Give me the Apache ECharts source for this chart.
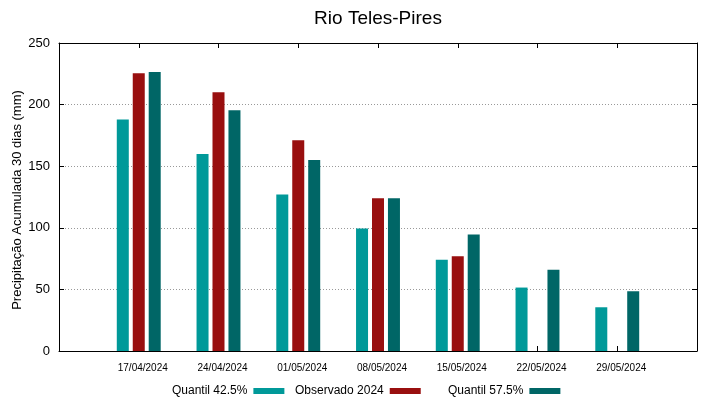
<!DOCTYPE html>
<html>
<head>
<meta charset="utf-8">
<script src="https://cdn.jsdelivr.net/npm/echarts@6/dist/echarts.min.js"></script>
<style>
  html, body { margin: 0; padding: 0; background: #fff; }
  #chart { width: 719px; height: 399px; }
</style>
</head>
<body>
<div id="chart"></div>
<script>
// Categories (empty slots at both ends to leave the margins of the plot)
const dates = ['', '17/04/2024', '24/04/2024', '01/05/2024', '08/05/2024', '15/05/2024', '22/05/2024', '29/05/2024', ''];

// Series values (mm)
const quantil425 = [null, 188, 160, 127, 99.5, 74, 51.5, 35.5, null];
const observado2024 = [null, 225.5, 210, 171, 124, 77, null, null, null];
const quantil575 = [null, 226.5, 195.5, 155, 124, 94.5, 66, 48.5, null];

const yTicks = [0, 50, 100, 150, 200, 250];
const yTitle = 'Precipitação Acumulada 30 dias (mm)';

const font = 'Liberation Sans, Arial, sans-serif';
const colors = ['#009999', '#990f0f', '#006666'];
const names = ['Quantil 42.5%', 'Observado 2024', 'Quantil 57.5%'];

var chart = echarts.init(document.getElementById('chart'));

function legendAt(name, left) {
    return {
        data: [name],
        left: left,
        top: 380,
        align: 'right',
        icon: 'rect',
        itemWidth: 31,
        itemHeight: 6,
        itemGap: 0,
        textStyle: { fontFamily: font, fontSize: 12, color: '#000', padding: [0, 1, 0, 0] }
    };
}

const option = {
    animation: false,
    title: {
        text: 'Rio Teles-Pires',
        left: 373,
        top: 4,
        textAlign: 'center',
        textStyle: { fontFamily: font, fontSize: 19, fontWeight: 'normal', color: '#000' }
    },
    // y axis title, placed by hand so it sits where the original has it
    graphic: [{
        type: 'text',
        x: 17,
        y: 200,
        rotation: Math.PI / 2,
        style: {
            text: yTitle,
            align: 'center',
            verticalAlign: 'middle',
            font: '13px ' + font,
            fill: '#000'
        }
    }],
    legend: [
        legendAt(names[0], 167),
        legendAt(names[1], 290),
        legendAt(names[2], 443)
    ],
    grid: { left: 59, right: 22, top: 43, bottom: 48, outerBoundsMode: 'none' },
    xAxis: [{
        type: 'category',
        data: dates,
        boundaryGap: false,
        axisLine: { onZero: false, lineStyle: { color: '#000', width: 1 } },
        axisTick: { inside: true, length: 5, lineStyle: { color: '#000' } },
        axisLabel: { fontFamily: font, fontSize: 10, color: '#000', margin: 12, padding: [0, 0, 0, 8] },
        splitLine: { show: false }
    }, {
        type: 'category',
        data: dates,
        boundaryGap: false,
        position: 'top',
        axisLine: { onZero: false, lineStyle: { color: '#000', width: 1 } },
        axisTick: { inside: true, length: 5, lineStyle: { color: '#000' } },
        axisLabel: { show: false }
    }],
    yAxis: [{
        type: 'value',
        min: 0,
        max: 250,
        interval: 50,
        axisLine: { show: true, lineStyle: { color: '#000' } },
        axisTick: { show: true, inside: true, length: 5, lineStyle: { color: '#000' } },
        axisLabel: {
            fontFamily: font, fontSize: 13, color: '#000', margin: 9,
            formatter: v => yTicks.includes(v) ? String(v) : ''
        },
        splitLine: { show: true, lineStyle: { color: '#999', type: [1, 2], width: 1 } }
    }, {
        type: 'value',
        min: 0,
        max: 250,
        interval: 50,
        position: 'right',
        axisLine: { show: true, lineStyle: { color: '#000' } },
        axisTick: { show: true, inside: true, length: 5, lineStyle: { color: '#000' } },
        axisLabel: { show: false },
        splitLine: { show: false }
    }],
    series: [
        { name: names[0], type: 'bar', data: quantil425, barWidth: 12, barGap: '33%', itemStyle: { color: colors[0] } },
        { name: names[1], type: 'bar', data: observado2024, barWidth: 12, barGap: '33%', itemStyle: { color: colors[1] } },
        { name: names[2], type: 'bar', data: quantil575, barWidth: 12, barGap: '33%', itemStyle: { color: colors[2] } }
    ]
};

chart.setOption(option);
</script>
</body>
</html>
